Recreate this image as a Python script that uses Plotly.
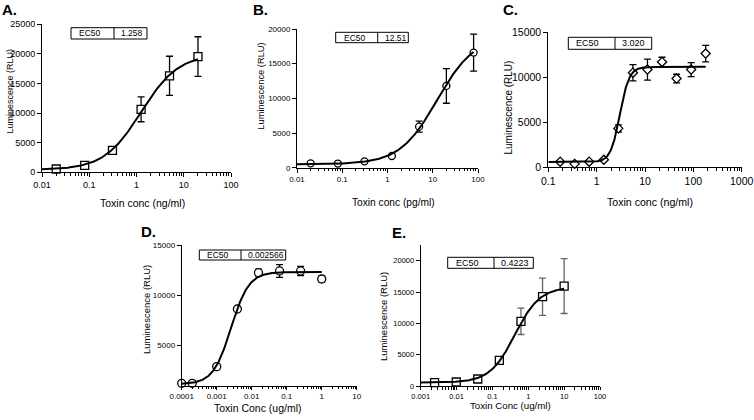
import numpy as np
import plotly.graph_objects as go

W, H = 754, 420

# ---------------- data ----------------
A_conc = [0.02, 0.08, 0.31, 1.25, 5, 20]
A_rlu = [560, 1180, 3700, 10640, 16300, 19550]
A_sd = [0, 0, 0, 2100, 3300, 3350]
A_fit = dict(bottom=400, top=20000, ec50=1.258, hill=1.1, xmin=0.01, xmax=20)
A_ec50_text = "1.258"

B_conc = [0.02, 0.08, 0.31, 1.25, 5, 20, 80]
B_rlu = [630, 600, 920, 1690, 5920, 11790, 16600]
B_sd = [0, 0, 0, 0, 800, 2500, 2670]
B_fit = dict(bottom=500, top=19000, ec50=12.51, hill=1.05, xmin=0.01, xmax=80)
B_ec50_text = "12.51"

C_conc = [0.176, 0.35, 0.70, 1.41, 2.81, 5.625, 11.25, 22.5, 45, 90, 180]
C_rlu = [590, 350, 590, 810, 4300, 10500, 10850, 11700, 9850, 10850, 12630]
C_sd = [0, 0, 0, 0, 400, 900, 1170, 520, 480, 780, 920]
C_fit = dict(bottom=550, top=11150, ec50=3.020, hill=4.5, xmin=0.1, xmax=180)
C_ec50_text = "3.020"

D_conc = [0.0001, 0.0002, 0.001, 0.0039, 0.0156, 0.0625, 0.25, 1]
D_rlu = [1240, 1240, 2900, 8650, 12270, 12440, 12440, 11640]
D_sd = [0, 0, 0, 0, 350, 630, 450, 300]
D_fit = dict(bottom=1150, top=12350, ec50=0.002566, hill=1.7, xmin=0.0001, xmax=1)
D_ec50_text = "0.002566"

E_conc = [0.00244, 0.0098, 0.039, 0.156, 0.625, 2.5, 10]
E_rlu = [530, 640, 1120, 4100, 10320, 14250, 15950]
E_sd = [0, 0, 0, 0, 2100, 2970, 4380]
E_fit = dict(bottom=550, top=15800, ec50=0.4223, hill=1.25, xmin=0.001, xmax=10)
E_ec50_text = "0.4223"

A_xticks = ["0.01", "0.1", "1", "10", "100"]
B_xticks = ["0.01", "0.1", "1", "10", "100"]
C_xticks = ["0.1", "1", "10", "100", "1000"]
D_xticks = ["0.0001", "0.001", "0.01", "0.1", "1", "10"]
E_xticks = ["0.001", "0.01", "0.1", "1", "10", "100"]

A_yticks = [0, 5000, 10000, 15000, 20000, 25000]
B_yticks = [0, 5000, 10000, 15000, 20000]
C_yticks = [0, 5000, 10000, 15000]
D_yticks = [5000, 10000, 15000]
E_yticks = [0, 5000, 10000, 15000, 20000]

FONT = "Arial, 'Liberation Sans', sans-serif"

panels = [
    dict(letter="A.", conc=A_conc, rlu=A_rlu, sd=A_sd, fit=A_fit, ec=A_ec50_text,
         xt=A_xticks, yt=A_yticks, xr=(-2, 2), yr=(0, 25000),
         box=(42, 231, 24.3, 172.3), sym="square", msize=8, errc="black", xtl=4,
         tickfs=9, xtitle="Toxin conc (ng/ml)", xtfs=10.5, xtpos=(142.5, 202.7),
         ytfs=9, ytpos=(9.5, 91), letpos=(0, 9), ecbox=(71, 114, 147, 27.7, 39.0), ecfs=8.5),
    dict(letter="B.", conc=B_conc, rlu=B_rlu, sd=B_sd, fit=B_fit, ec=B_ec50_text,
         xt=B_xticks, yt=B_yticks, xr=(-2, 2), yr=(0, 20000),
         box=(297, 478, 29, 167.7), sym="circle", msize=7, errc="black", xtl=4,
         tickfs=8, xtitle="Toxin conc (pg/ml)", xtfs=10.2, xtpos=(393, 202.7),
         ytfs=9.3, ytpos=(261, 86.7), letpos=(251, 9), ecbox=(335.7, 377.7, 408.3, 32.3, 42.7), ecfs=8.5),
    dict(letter="C.", conc=C_conc, rlu=C_rlu, sd=C_sd, fit=C_fit, ec=C_ec50_text,
         xt=C_xticks, yt=C_yticks, xr=(-1, 3), yr=(0, 15000),
         box=(548.3, 741.7, 32.3, 167), sym="diamond", msize=7, errc="black", xtl=4,
         tickfs=10.5, xtitle="Toxin conc (ng/ml)", xtfs=10.6, xtpos=(649.7, 201.7),
         ytfs=10, ytpos=(508, 107.5), letpos=(501, 9.5), ecbox=(568.3, 615, 651.7, 37.3, 49.3), ecfs=9),
    dict(letter="D.", conc=D_conc, rlu=D_rlu, sd=D_sd, fit=D_fit, ec=D_ec50_text,
         xt=D_xticks, yt=D_yticks, xr=(-4, 1), yr=(1000, 15000),
         box=(181.7, 356.7, 245.3, 385.7), sym="circle", msize=8, errc="black", xtl=3,
         tickfs=8, xtitle="Toxin Conc (ug/ml)", xtfs=10.5, xtpos=(258, 407.5),
         ytfs=9.5, ytpos=(146, 310), letpos=(139, 231.5), ecbox=(199.3, 241, 285.7, 250, 260), ecfs=8.5),
    dict(letter="E.", conc=E_conc, rlu=E_rlu, sd=E_sd, fit=E_fit, ec=E_ec50_text,
         xt=E_xticks, yt=E_yticks, xr=(-3, 2), yr=(0, 22500),
         box=(420.7, 600, 245, 386), sym="square", msize=8, errc="#666666", xtl=3,
         tickfs=7.5, xtitle="Toxin Conc (ug/ml)", xtfs=9.7, xtpos=(510.8, 405.5),
         ytfs=9.5, ytpos=(383, 317), letpos=(390, 232), ecbox=(447.7, 494, 533.3, 257.3, 268.3), ecfs=9),
]


def px_x(v):
    return v / W


def px_y(v):
    return 1 - v / H


fig = go.Figure()
shapes = []
annotations = []

for i, p in enumerate(panels, start=1):
    xa = "x" if i == 1 else f"x{i}"
    ya = "y" if i == 1 else f"y{i}"
    x0, x1, y0, y1 = p["box"]
    f = p["fit"]
    xs = np.logspace(np.log10(f["xmin"]), np.log10(f["xmax"]), 300)
    ys = f["bottom"] + (f["top"] - f["bottom"]) / (1 + (f["ec50"] / xs) ** f["hill"])

    fig.add_trace(go.Scatter(
        x=p["conc"], y=p["rlu"], mode="markers", xaxis=xa, yaxis=ya,
        marker=dict(symbol=p["sym"], size=p["msize"], color="white",
                    line=dict(color="black", width=1.3)),
        error_y=dict(type="data", array=p["sd"], color=p["errc"], thickness=1.3, width=3.5),
        showlegend=False, hoverinfo="skip", cliponaxis=False))
    fig.add_trace(go.Scatter(
        x=xs, y=ys, mode="lines", xaxis=xa, yaxis=ya,
        line=dict(color="black", width=2), showlegend=False, hoverinfo="skip"))

    lo, hi = p["xr"]
    decades = [10.0 ** k for k in range(lo, hi + 1)]
    minor = [m * 10.0 ** k for k in range(lo, hi) for m in range(2, 10)]
    xkey = "xaxis" if i == 1 else f"xaxis{i}"
    ykey = "yaxis" if i == 1 else f"yaxis{i}"
    fig.update_layout({
        xkey: dict(domain=[px_x(x0), px_x(x1)], anchor=ya, type="log", automargin=False,
                   range=[lo, hi], tickmode="array", tickvals=decades, ticktext=p["xt"],
                   showline=True, linecolor="black", linewidth=1, ticks="outside",
                   ticklen=p["xtl"], tickwidth=1, tickcolor="black", showgrid=False, zeroline=False,
                   tickfont=dict(family=FONT, size=p["tickfs"], color="black"),
                   minor=dict(tickmode="array", tickvals=minor, ticks="outside", ticklen=2.5,
                              tickwidth=1, tickcolor="black", showgrid=False)),
        ykey: dict(domain=[px_y(y1), px_y(y0)], anchor=xa, range=list(p["yr"]), automargin=False,
                   tickmode="array", tickvals=p["yt"], ticktext=[str(v) for v in p["yt"]],
                   showline=True, linecolor="black", linewidth=1, ticks="outside",
                   ticklen=4, tickwidth=1, tickcolor="black", showgrid=False, zeroline=False,
                   tickfont=dict(family=FONT, size=p["tickfs"], color="black")),
    })

    # EC50 table
    bx0, bxm, bx1, by0, by1 = p["ecbox"]
    shapes.append(dict(type="rect", xref="paper", yref="paper",
                       x0=px_x(bx0), x1=px_x(bx1), y0=px_y(by1), y1=px_y(by0),
                       line=dict(color="black", width=1), fillcolor="white"))
    shapes.append(dict(type="line", xref="paper", yref="paper",
                       x0=px_x(bxm), x1=px_x(bxm), y0=px_y(by1), y1=px_y(by0),
                       line=dict(color="black", width=1)))
    ymid = px_y((by0 + by1) / 2)
    annotations.append(dict(xref="paper", yref="paper", x=px_x(bx0 + 6), y=ymid,
                            text="EC50", showarrow=False, xanchor="left", yanchor="middle",
                            font=dict(family=FONT, size=p["ecfs"], color="black")))
    annotations.append(dict(xref="paper", yref="paper", x=px_x(bxm + 5), y=ymid,
                            text=p["ec"], showarrow=False, xanchor="left", yanchor="middle",
                            font=dict(family=FONT, size=p["ecfs"], color="black")))

    # panel letter
    lx, ly = p["letpos"]
    annotations.append(dict(xref="paper", yref="paper", x=px_x(lx), y=px_y(ly),
                            text="<b>" + p["letter"] + "</b>", showarrow=False,
                            xanchor="left", yanchor="middle",
                            font=dict(family=FONT, size=15, color="black")))
    # axis titles
    tx, ty = p["xtpos"]
    annotations.append(dict(xref="paper", yref="paper", x=px_x(tx), y=px_y(ty),
                            text=p["xtitle"], showarrow=False, xanchor="center", yanchor="middle",
                            font=dict(family=FONT, size=p["xtfs"], color="black")))
    yx, yy = p["ytpos"]
    annotations.append(dict(xref="paper", yref="paper", x=px_x(yx), y=px_y(yy),
                            text="Luminescence (RLU)", showarrow=False, textangle=-90,
                            xanchor="center", yanchor="middle",
                            font=dict(family=FONT, size=p["ytfs"], color="black")))

fig.update_layout(template="none", width=W, height=H, margin=dict(l=0, r=0, t=0, b=0),
                  paper_bgcolor="white", plot_bgcolor="white",
                  shapes=shapes, annotations=annotations, hovermode=False,
                  font=dict(family=FONT, color="black"))

fig.write_html("out.html", config={"displayModeBar": False},
               post_script="document.body.style.margin='0';document.body.style.padding='0';")
